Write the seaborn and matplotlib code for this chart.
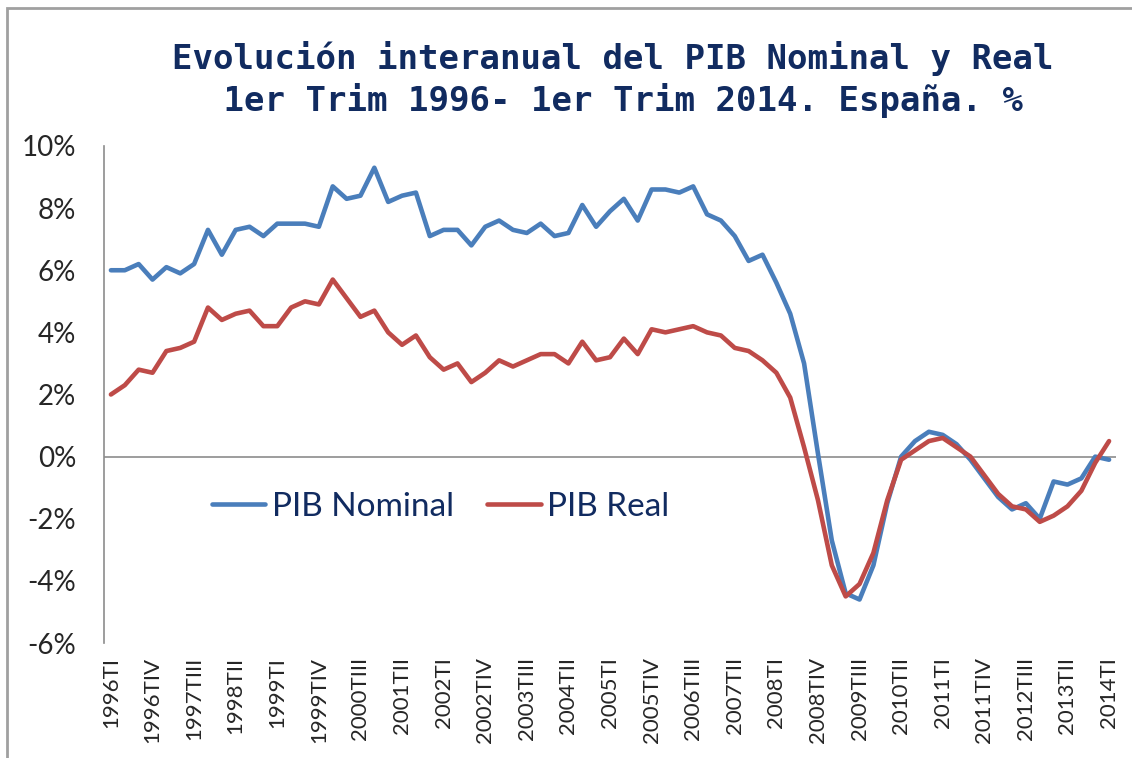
import pandas as pd
import matplotlib.pyplot as plt
import matplotlib.patches as mpatches
from matplotlib.ticker import PercentFormatter
import seaborn as sns

# trimestres 1996TI .. 2014TI
roman = ['I', 'II', 'III', 'IV']
quarters = [f'{y}T{q}' for y in range(1996, 2015) for q in roman][:73]

pib_nominal = [
    6.0, 6.0, 6.2, 5.7, 6.1, 5.9, 6.2, 7.3, 6.5, 7.3, 7.4, 7.1, 7.5,
    7.5, 7.5, 7.4, 8.7, 8.3, 8.4, 9.3, 8.2, 8.4, 8.5, 7.1, 7.3, 7.3,
    6.8, 7.4, 7.6, 7.3, 7.2, 7.5, 7.1, 7.2, 8.1, 7.4, 7.9, 8.3, 7.6,
    8.6, 8.6, 8.5, 8.7, 7.8, 7.6, 7.1, 6.3, 6.5, 5.6, 4.6,
    3.0, 0.1, -2.7, -4.4, -4.6, -3.5, -1.5, 0.0, 0.5, 0.8, 0.7, 0.4,
    -0.1, -0.7, -1.3, -1.7, -1.5, -2.0, -0.8, -0.9, -0.7, 0.0, -0.1,
]
pib_real = [
    2.0, 2.3, 2.8, 2.7, 3.4, 3.5, 3.7, 4.8, 4.4, 4.6, 4.7, 4.2, 4.2,
    4.8, 5.0, 4.9, 5.7, 5.1, 4.5, 4.7, 4.0, 3.6, 3.9, 3.2, 2.8, 3.0,
    2.4, 2.7, 3.1, 2.9, 3.1, 3.3, 3.3, 3.0, 3.7, 3.1, 3.2, 3.8, 3.3,
    4.1, 4.0, 4.1, 4.2, 4.0, 3.9, 3.5, 3.4, 3.1, 2.7, 1.9,
    0.3, -1.4, -3.5, -4.5, -4.1, -3.1, -1.4, -0.1, 0.2, 0.5, 0.6, 0.3,
    0.0, -0.6, -1.2, -1.6, -1.7, -2.1, -1.9, -1.6, -1.1, -0.2, 0.5,
]

df = pd.DataFrame({
    'pos': list(range(len(quarters))) * 2,
    'valor': pib_nominal + pib_real,
    'serie': ['PIB Nominal'] * len(quarters) + ['PIB Real'] * len(quarters),
})

sns.set_style('white')
plt.rcParams['font.family'] = ['Lato', 'DejaVu Sans']
plt.rcParams['axes.unicode_minus'] = False

fig = plt.figure(figsize=(11.32, 7.58), dpi=100)
ax = fig.add_axes([104 / 1132, 1 - 643 / 758, 1012 / 1132, 497 / 758])

colores = {'PIB Nominal': '#4A7EBB', 'PIB Real': '#BE4B48'}
sns.lineplot(data=df, x='pos', y='valor', hue='serie', palette=colores,
             linewidth=3.3, ax=ax)

ax.axhline(0, color='#8C8C8C', linewidth=1.2, zorder=0)
ax.set_xlim(-0.5, len(quarters) - 0.5)
ax.set_ylim(-6, 10)
ax.set_yticks(range(-6, 11, 2))
ax.yaxis.set_major_formatter(PercentFormatter(decimals=0))
ax.set_xticks(range(0, len(quarters), 3))
ax.set_xticklabels(quarters[::3], rotation=90)
ax.tick_params(axis='x', length=0, pad=10, labelsize=16)
ax.tick_params(axis='y', length=0, pad=20, labelsize=20)
ax.set_xlabel('')
ax.set_ylabel('')

for s in ['top', 'right', 'bottom']:
    ax.spines[s].set_visible(False)
ax.spines['left'].set_color('#8C8C8C')
ax.spines['left'].set_linewidth(1.2)

leg = ax.legend(loc='center left', bbox_to_anchor=(0.077, 0.274), ncol=2,
                frameon=False, fontsize=24, handlelength=1.6,
                handletextpad=0.2, columnspacing=1.0)
for t in leg.get_texts():
    t.set_color('#112B60')

fig.text(613 / 1132, 1 - 80 / 758,
         'Evolución interanual del PIB Nominal y Real\n'
         ' 1er Trim 1996- 1er Trim 2014. España. %',
         ha='center', va='center', fontsize=24.5, fontweight='bold',
         family='DejaVu Sans Mono', color='#112B60', linespacing=1.25)

# borde del área del gráfico
fig.patches.append(mpatches.Rectangle((7 / 1132, -0.05), 1.1, 1.05 - 8 / 758,
                                      transform=fig.transFigure, fill=False,
                                      edgecolor='#A0A0A0', linewidth=2))

fig.savefig('out.png', dpi=100)
